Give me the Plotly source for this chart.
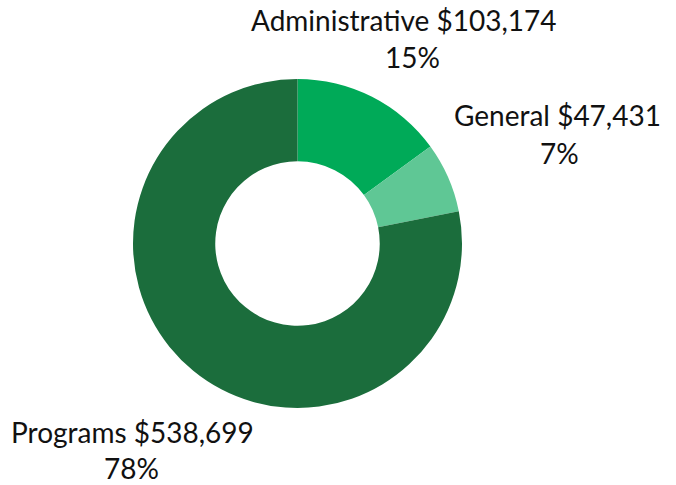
import plotly.graph_objects as go

labels = ["Administrative", "General", "Programs"]
values = [103174, 47431, 538699]
colors = ["#00AA58", "#5FC795", "#1B6D3C"]

# label anchor positions (pixel, from top-left) for the outside text
label_x1 = [404, 557, 132]
label_x2 = [413, 559, 131]
label_y1 = [20, 115, 432]
label_y2 = [57, 153, 468]

W, H = 676, 485
total = sum(values)

cx, cy, r = 297.5, 243.5, 164.5

fig = go.Figure(go.Pie(
    labels=labels,
    values=values,
    hole=0.5,
    sort=False,
    direction="clockwise",
    rotation=0,
    marker=dict(colors=colors, line=dict(width=0)),
    textinfo="none",
    hoverinfo="label+value+percent",
    domain=dict(x=[(cx - r) / W, (cx + r) / W], y=[1 - (cy + r) / H, 1 - (cy - r) / H]),
    showlegend=False,
))

font = dict(family="Lato, 'Open Sans', sans-serif", size=28, color="#111111")
annotations = []
for lab, v, x1, x2, y1, y2 in zip(labels, values, label_x1, label_x2, label_y1, label_y2):
    annotations.append(dict(text=f"{lab} ${v:,}", x=x1 / W, y=1 - y1 / H, xref="paper", yref="paper",
                            xanchor="center", yanchor="middle", showarrow=False, font=font))
    annotations.append(dict(text=f"{round(100 * v / total)}%", x=x2 / W, y=1 - y2 / H, xref="paper", yref="paper",
                            xanchor="center", yanchor="middle", showarrow=False, font=font))

fig.update_layout(
    width=W, height=H,
    margin=dict(l=0, r=0, t=0, b=0),
    paper_bgcolor="white", plot_bgcolor="white",
    annotations=annotations,
)

fig.write_html("out.html", config={"displayModeBar": False},
               post_script="document.body.style.margin='0';")
